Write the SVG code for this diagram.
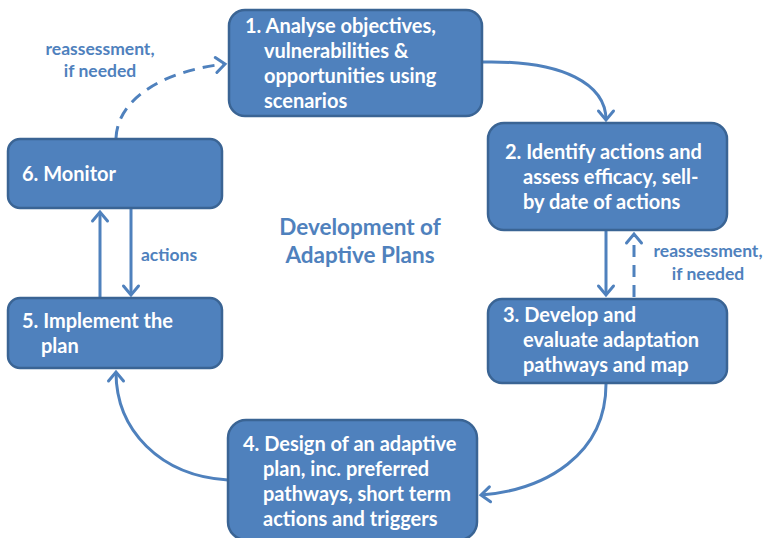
<svg xmlns="http://www.w3.org/2000/svg" width="764" height="538" viewBox="0 0 764 538">
  <style>
    .box { fill: #4f81bd; stroke: #3a6494; stroke-width: 2.5; }
    .lbl { font-family: Lato, "Liberation Sans", sans-serif; font-weight: bold; font-size: 20px; fill: #ffffff; }
    .note { font-family: Lato, "Liberation Sans", sans-serif; font-weight: bold; font-size: 17.5px; fill: #4f81bd; text-anchor: middle; }
    .title { font-family: Lato, "Liberation Sans", sans-serif; font-weight: bold; font-size: 22.5px; fill: #4f81bd; text-anchor: middle; }
    .link { fill: none; stroke: #4f81bd; stroke-width: 3; marker-end: url(#arrow); }
    .dash { stroke-dasharray: 12 8; }
  </style>
  <defs>
    <marker id="arrow" markerUnits="userSpaceOnUse" markerWidth="24" markerHeight="24" viewBox="-12 -12 24 24" refX="0" refY="0" orient="auto">
      <path d="M-9,-7.5 L0,0 L-9,7.5" fill="none" stroke="#4f81bd" stroke-width="3" stroke-linecap="round" stroke-linejoin="miter"/>
    </marker>
  </defs>

  <!-- connectors -->
  <g id="connectors">
    <path class="link" d="M482,62 C565,60 606,85 606,120"/>
    <path class="link" d="M606,231 L606,295"/>
    <path class="link dash" d="M634,297 L634,234"/>
    <path class="link" d="M606,384 C606,455 545,490 481,495"/>
    <path class="link" d="M228,480 C160,476 116,430 116,372"/>
    <path class="link" d="M100,298 L100,212"/>
    <path class="link" d="M131,209 L131,295"/>
    <path class="link dash" d="M116,138 C118,95 170,70 225,64"/>
  </g>

  <g id="node1">
    <rect class="box" x="229" y="10" width="253" height="106" rx="16"/>
    <text class="lbl" x="245" y="33">1. Analyse objectives,</text>
    <text class="lbl" x="264" y="58">vulnerabilities &amp;</text>
    <text class="lbl" x="264" y="83">opportunities using</text>
    <text class="lbl" x="264" y="108">scenarios</text>
  </g>

  <g id="node2">
    <rect class="box" x="488" y="123" width="239" height="107" rx="16"/>
    <text class="lbl" x="505" y="159">2. Identify actions and</text>
    <text class="lbl" x="523" y="184">assess efficacy, sell-</text>
    <text class="lbl" x="523" y="209">by date of actions</text>
  </g>

  <g id="node3">
    <rect class="box" x="488" y="299" width="239" height="84" rx="14"/>
    <text class="lbl" x="503" y="322">3. Develop and</text>
    <text class="lbl" x="523" y="347">evaluate adaptation</text>
    <text class="lbl" x="523" y="372">pathways and map</text>
  </g>

  <g id="node4">
    <rect class="box" x="228" y="420" width="249" height="120" rx="18"/>
    <text class="lbl" x="243" y="451">4. Design of an adaptive</text>
    <text class="lbl" x="263" y="476">plan, inc. preferred</text>
    <text class="lbl" x="263" y="501">pathways, short term</text>
    <text class="lbl" x="263" y="526">actions and triggers</text>
  </g>

  <g id="node5">
    <rect class="box" x="8" y="298" width="214" height="70" rx="12"/>
    <text class="lbl" x="22" y="328">5. Implement the</text>
    <text class="lbl" x="41" y="353">plan</text>
  </g>

  <g id="node6">
    <rect class="box" x="8" y="139" width="214" height="69" rx="12"/>
    <text class="lbl" x="22" y="181">6. Monitor</text>
  </g>

  <g id="labels">
    <text class="note" x="100" y="55">reassessment,</text>
    <text class="note" x="100" y="77">if needed</text>
    <text class="note" x="708" y="257">reassessment,</text>
    <text class="note" x="708" y="280">if needed</text>
    <text class="note" x="169" y="261">actions</text>
    <text class="title" x="360" y="235">Development of</text>
    <text class="title" x="360" y="263">Adaptive Plans</text>
  </g>
</svg>
